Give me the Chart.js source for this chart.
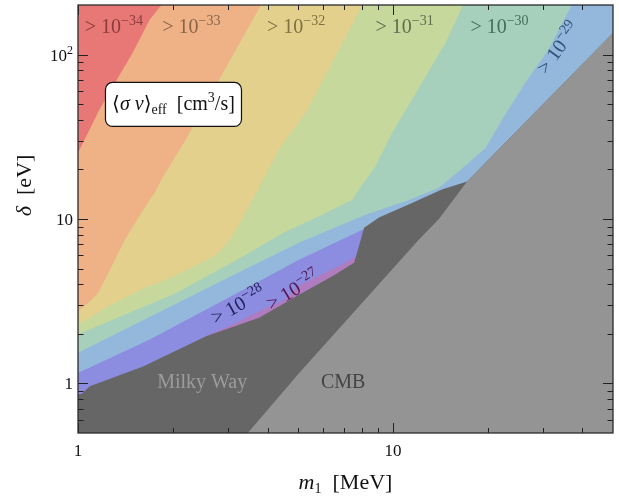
<!DOCTYPE html>
<html>
<head>
<meta charset="utf-8">
<script src="https://cdn.jsdelivr.net/npm/chart.js@4.4.1/dist/chart.umd.min.js"></script>
<style>
  html, body { margin: 0; padding: 0; background: #fff; }
  canvas { display: block; }
</style>
</head>
<body>
<canvas id="limitsChart" width="619" height="497"></canvas>
<script>
// upper edge of each band, m1 in MeV vs delta in eV
const topM = [1, 50];
const topD = [200, 200];

const edge33M = [1, 1.037, 1.17, 1.49, 1.69, 1.84, 50];
const edge33D = [25.3, 29, 46.3, 102, 163, 200, 200];

const edge32M = [1, 1.076, 1.16, 1.28, 1.41, 1.59, 1.75, 1.84, 2.2, 2.81, 3.81, 50];
const edge32D = [2.75, 3.09, 3.56, 5.17, 7.5, 10.9, 14.4, 17.4, 30.4, 70.5, 200, 200];

const edge31M = [1, 1.25, 1.59, 2.02, 2.71, 3.0, 3.14, 3.58, 4.35, 5.35, 6.57, 8.0, 50];
const edge31D = [2.28, 2.95, 3.73, 4.49, 5.94, 7.2, 8.24, 13.1, 26.5, 46, 97.6, 200, 200];

const edge30M = [1, 2.02, 3.14, 4.57, 5.83, 7.43, 7.8, 8.81, 9.95, 11.5, 14.7, 16.7, 50];
const edge30D = [1.99, 3.5, 5.54, 8.4, 10.4, 13.1, 15.1, 20.9, 33.4, 53.3, 118, 200, 200];

const edge29M = [1, 3.14, 5.05, 8.19, 11.2, 14, 16.2, 19.7, 22.2, 26.3, 31.2, 37, 50];
const edge29D = [1.54, 4.6, 7.2, 10.6, 13.0, 15.5, 19.5, 27, 40, 67, 107, 200, 200];

const edge28M = [1, 1.69, 3.14, 5.05, 8.1, 50];
const edge28D = [1.16, 1.85, 3.48, 5.68, 8.7, 8.7];

const edge27M = [1, 2.55, 3.2, 3.76, 4.5, 5.05, 6.9, 7.53, 7.8, 50];
const edge27D = [0.6, 1.94, 2.35, 2.75, 3.2, 3.95, 5.29, 5.81, 5.95, 5.95];

const milkyWayM = [1, 1.03, 1.09, 1.61, 2.55, 3.76, 5.05, 6.42, 7.53, 7.8, 8.1, 9.03, 11.5, 14.3, 17.2, 50];
const milkyWayD = [0.857, 0.87, 0.963, 1.27, 1.94, 2.51, 3.48, 4.49, 5.42, 6.84, 8.84, 10.2, 12.5, 15.1, 16.9, 135];

const cmbM = [3.46, 5.04, 12.1, 14.0, 17.2, 50];
const cmbD = [0.5, 1.16, 7.5, 10, 16.9, 135];

const bandExponents = ["−34", "−33", "−32", "−31", "−30", "−29", "−28", "−27"];

const xMajor = [1, 10];
const xMinor = [2, 3, 4, 5, 6, 7, 8, 9, 20, 30, 40];
const yMajor = [1, 10, 100];
const yMinor = [0.6, 0.7, 0.8, 0.9, 2, 3, 4, 5, 6, 7, 8, 9, 20, 30, 40, 50, 60, 70, 80, 90];
const xTickLabels = ["1", "10"];
const yTickLabels = ["1", "10", "10"];

const layers = [
    { m: topM, d: topD, color: "#e87876" },
    { m: edge33M, d: edge33D, color: "#efb287" },
    { m: edge32M, d: edge32D, color: "#e2d08c" },
    { m: edge31M, d: edge31D, color: "#c6d89c" },
    { m: edge30M, d: edge30D, color: "#a6d0bb" },
    { m: edge29M, d: edge29D, color: "#93b8dc" },
    { m: edge28M, d: edge28D, color: "#8c8ce0" },
    { m: edge27M, d: edge27D, color: "#b07cc0" },
    { m: milkyWayM, d: milkyWayD, color: "#666666" },
    { m: cmbM, d: cmbD, color: "#949494" }
];

function pts(ms, ds) {
    return ms.map((m, i) => ({ x: m, y: ds[i] }));
}

const SERIF = '"Liberation Serif", "DejaVu Serif", serif';
function font(size, italic) {
    return (italic ? "italic " : "") + size + "px " + SERIF;
}

// parts: [text, size, italic, rise]
function rich(ctx, parts, cx, cy, angle, align, color) {
    let w = 0;
    const widths = parts.map(p => {
        ctx.font = font(p[1], p[2]);
        const pw = ctx.measureText(p[0]).width;
        w += pw;
        return pw;
    });
    ctx.save();
    ctx.translate(cx, cy);
    ctx.rotate((angle || 0) * Math.PI / 180);
    ctx.fillStyle = color;
    ctx.textAlign = "left";
    ctx.textBaseline = "alphabetic";
    let x0 = align === "right" ? -w : (align === "left" ? 0 : -w / 2);
    parts.forEach((p, i) => {
        ctx.font = font(p[1], p[2]);
        ctx.fillText(p[0], x0, p[3] || 0);
        x0 += widths[i];
    });
    ctx.restore();
}

const decor = {
    id: "decor",
    afterDraw(chart) {
        const { ctx, chartArea: a } = chart;
        const x = chart.scales.x, y = chart.scales.y;

        // ticks pointing inwards on all four sides
        ctx.save();
        ctx.strokeStyle = "#222";
        ctx.lineWidth = 1;
        ctx.beginPath();
        const xt = (v, len) => {
            const px = Math.round(x.getPixelForValue(v)) + 0.5;
            ctx.moveTo(px, a.bottom); ctx.lineTo(px, a.bottom - len);
            ctx.moveTo(px, a.top); ctx.lineTo(px, a.top + len);
        };
        const yt = (v, len) => {
            const py = Math.round(y.getPixelForValue(v)) + 0.5;
            ctx.moveTo(a.left, py); ctx.lineTo(a.left + len, py);
            ctx.moveTo(a.right, py); ctx.lineTo(a.right - len, py);
        };
        xMajor.forEach(v => xt(v, 10));
        xMinor.forEach(v => xt(v, 5));
        yMajor.forEach(v => yt(v, 10));
        yMinor.forEach(v => yt(v, 5.5));
        ctx.stroke();

        ctx.strokeStyle = "#2b2b2b";
        ctx.lineWidth = 1.3;
        ctx.strokeRect(a.left, a.top, a.right - a.left, a.bottom - a.top);
        ctx.restore();

        // tick labels
        xMajor.forEach((v, i) => {
            rich(ctx, [[xTickLabels[i], 17]], x.getPixelForValue(v), a.bottom + 23, 0, "center", "#111");
        });
        yMajor.forEach((v, i) => {
            const parts = v === 100 ? [[yTickLabels[i], 17], ["2", 12, false, -7]] : [[yTickLabels[i], 17]];
            rich(ctx, parts, a.left - 5, y.getPixelForValue(v) + 6, 0, "right", "#111");
        });

        // axis titles
        rich(ctx, [["m", 22, true], ["1", 14, false, 4], ["  [MeV]", 22]], (a.left + a.right) / 2, 489, 0, "center", "#111");
        rich(ctx, [["δ", 22, true], ["  [eV]", 22]], 31, y.getPixelForValue(16), -90, "center", "#111");

        // band labels along the top
        const topLabelM = [1.30, 2.29, 4.93, 10.9, 21.8];
        const topColors = ["#8c3b3b", "#8a6446", "#7e7040", "#5e6d4f", "#456d5e"];
        topLabelM.forEach((m, i) => {
            rich(ctx, [["> 10", 20], [bandExponents[i], 14, false, -8]],
                x.getPixelForValue(m), y.getPixelForValue(136), 0, "center", topColors[i]);
        });
        rich(ctx, [["> 10", 20], [bandExponents[5], 14, false, -8]],
            x.getPixelForValue(34.8), y.getPixelForValue(110) + 4, -54, "center", "#34527a");
        rich(ctx, [["> 10", 20], [bandExponents[6], 14, false, -8]],
            x.getPixelForValue(3.3), y.getPixelForValue(2.94) + 4, -29, "center", "#22225c");
        rich(ctx, [["> 10", 20], [bandExponents[7], 14, false, -8]],
            x.getPixelForValue(4.93), y.getPixelForValue(3.62) + 4, -31, "center", "#521852");

        // excluded regions
        rich(ctx, [["Milky Way", 20]], x.getPixelForValue(2.48), y.getPixelForValue(0.94), 0, "center", "#9c9c9c");
        rich(ctx, [["CMB", 20]], x.getPixelForValue(6.95), y.getPixelForValue(0.94), 0, "center", "#444");

        // legend box
        const bx = x.getPixelForValue(2.01), by = y.getPixelForValue(49.7);
        ctx.save();
        ctx.beginPath();
        ctx.roundRect(bx - 68, by - 22, 136, 44, 7);
        ctx.fillStyle = "#fff";
        ctx.fill();
        ctx.strokeStyle = "#111";
        ctx.lineWidth = 1.2;
        ctx.stroke();
        ctx.restore();
        rich(ctx, [["⟨", 20], ["σ v", 20, true], ["⟩", 20], ["eff", 14, false, 4], ["  [cm", 20], ["3", 14, false, -8], ["/s]", 20]],
            bx, by + 6, 0, "center", "#111");
    }
};

const limitsChart = new Chart(
    document.getElementById("limitsChart"),
    {
        type: "line",
        data: {
            datasets: layers.map((l, i) => ({
                data: pts(l.m, l.d),
                backgroundColor: l.color,
                borderColor: l.color,
                borderWidth: 0,
                pointRadius: 0,
                tension: 0,
                fill: "start",
                order: layers.length - i
            }))
        },
        options: {
            responsive: false,
            devicePixelRatio: 1,
            animation: false,
            events: [],
            layout: { padding: { left: 78, right: 6, top: 5, bottom: 64 } },
            scales: {
                x: { type: "logarithmic", min: 1, max: 50, display: false },
                y: { type: "logarithmic", min: 0.5, max: 200, display: false }
            },
            plugins: {
                legend: { display: false },
                tooltip: { enabled: false }
            }
        },
        plugins: [decor]
    }
);
</script>
</body>
</html>
